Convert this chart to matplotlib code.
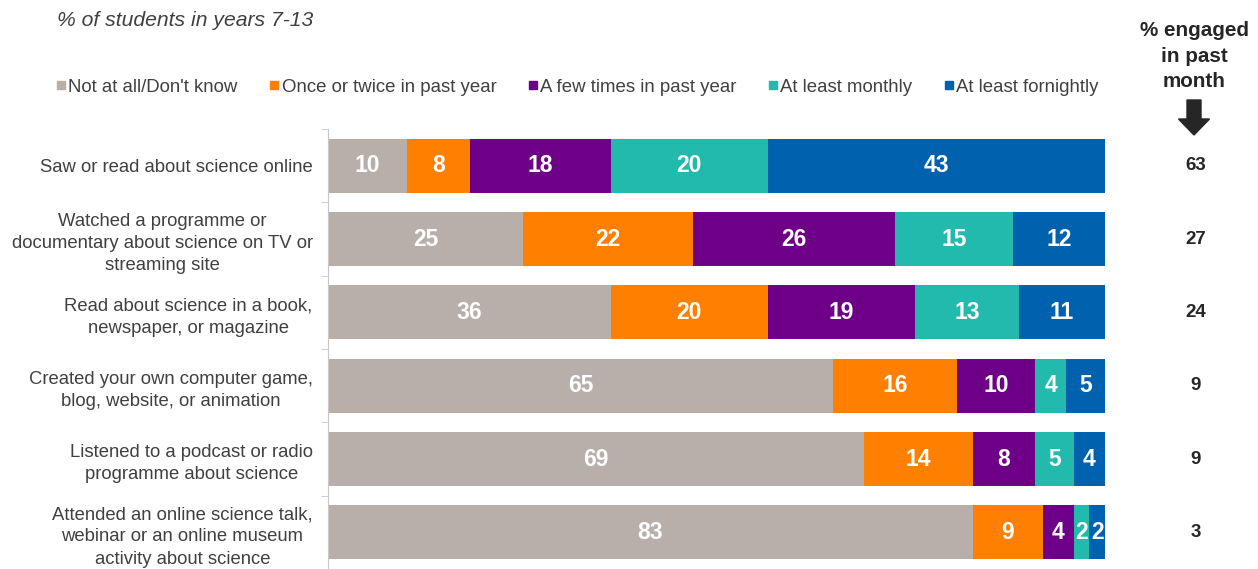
import matplotlib

matplotlib.use("Agg")
import matplotlib.pyplot as plt
import numpy as np
from matplotlib.lines import Line2D
from matplotlib.patches import FancyArrow

plt.rcParams["font.family"] = ["Liberation Sans", "DejaVu Sans"]

categories = [
    "Saw or read about science online",
    "Watched a programme or\ndocumentary about science on TV or\nstreaming site",
    "Read about science in a book,\nnewspaper, or magazine",
    "Created your own computer game,\nblog, website, or animation",
    "Listened to a podcast or radio\nprogramme about science",
    "Attended an online science talk,\nwebinar or an online museum\nactivity about science",
]
series_names = [
    "Not at all/Don't know",
    "Once or twice in past year",
    "A few times in past year",
    "At least monthly",
    "At least fornightly",
]
not_at_all = [10.2, 25.1, 36.4, 65.0, 69.0, 83.0]
once_twice = [8.1, 21.9, 20.2, 16.0, 14.0, 9.0]
few_times = [18.1, 26.0, 19.0, 10.0, 8.0, 4.0]
monthly = [20.2, 15.1, 13.3, 4.0, 5.0, 2.0]
fortnightly = [43.4, 12.0, 11.1, 5.0, 4.0, 2.0]
engaged_past_month = [63, 27, 24, 9, 9, 3]

colors = ["#B8AFAA", "#FF7F00", "#6E0087", "#21BAAC", "#0062AE"]
text_color = "#404040"

fig = plt.figure(figsize=(12.58, 5.69), dpi=100)
ax = fig.add_axes([328 / 1258, 0.0, (1105 - 328) / 1258, 1 - 129 / 569])

series = [not_at_all, once_twice, few_times, monthly, fortnightly]
positions = np.arange(len(categories))
left = np.zeros(len(categories))
for name, values, color in zip(series_names, series, colors):
    values = np.array(values)
    ax.barh(positions, values, left=left, height=0.74, color=color, label=name)
    for pos, start, val in zip(positions, left, values):
        ax.text(start + val / 2, pos, f"{val:.0f}", ha="center", va="center",
                color="white", fontsize=16.5, fontweight="bold")
    left += values

ax.set_xlim(0, 100)
ax.set_ylim(5.41, -0.5)
ax.set_yticks(positions)
ax.set_yticklabels(categories, fontsize=13.3, color=text_color,
                   multialignment="center", linespacing=1.4)
ax.tick_params(axis="y", which="major", length=0, pad=11)
ax.set_yticks(np.arange(-0.5, 6, 1), minor=True)
ax.tick_params(axis="y", which="minor", length=5, color="#C8C8C8")
ax.set_xticks([])
for side in ["top", "right", "bottom"]:
    ax.spines[side].set_visible(False)
ax.spines["left"].set_color("#C8C8C8")

for pos, val in zip(positions, engaged_past_month):
    ax.text(111.7, pos, str(val), ha="center", va="center", fontsize=13.5,
            fontweight="bold", color="#262626", clip_on=False)

fig.text(1194 / 1258, 1 - 56 / 569, "% engaged\nin past\nmonth", ha="center", va="center",
         fontsize=14.9, fontweight="bold", color="#262626", linespacing=1.45)
fig.patches.append(
    FancyArrow(1194 / 1258, 1 - 100 / 569, 0, -35 / 569, width=14 / 1258,
               head_width=31 / 1258, head_length=16 / 569, length_includes_head=True,
               color="#262626", transform=fig.transFigure, figure=fig)
)

fig.text(57 / 1258, 1 - 20 / 569, "% of students in years 7-13", ha="left", va="center",
         fontsize=15.2, style="italic", color=text_color)

handles = [Line2D([], [], marker="s", linestyle="none", markersize=6, color=c) for c in colors]
fig.legend(handles, series_names, loc="center left", bbox_to_anchor=(47 / 1258, 1 - 87 / 569),
           ncol=5, frameon=False, fontsize=13.4, handlelength=0.5, handletextpad=0.15,
           columnspacing=1.7, borderpad=0, labelcolor=text_color)

fig.savefig("out.png", dpi=100)
